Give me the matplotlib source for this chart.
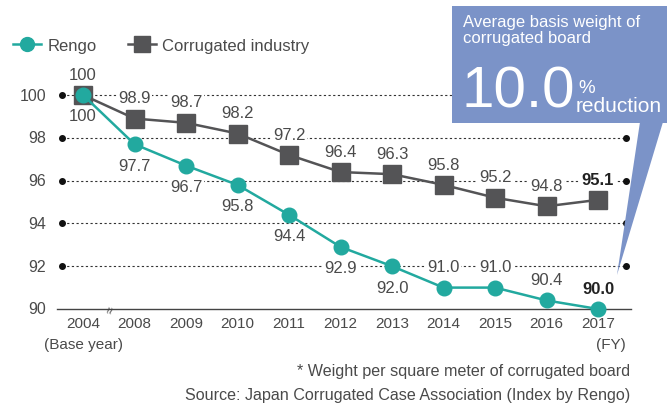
import matplotlib
matplotlib.use("Agg")
from matplotlib import pyplot as plt
from matplotlib.patches import Rectangle, Polygon
from matplotlib.lines import Line2D

plt.rcParams['font.family'] = ['Liberation Sans', 'DejaVu Sans']

years = ["2004", "2008", "2009", "2010", "2011", "2012", "2013", "2014", "2015", "2016", "2017"]
rengo = [100, 97.7, 96.7, 95.8, 94.4, 92.9, 92.0, 91.0, 91.0, 90.4, 90.0]
industry = [100, 98.9, 98.7, 98.2, 97.2, 96.4, 96.3, 95.8, 95.2, 94.8, 95.1]
rengo_labels = ["100", "97.7", "96.7", "95.8", "94.4", "92.9", "92.0", "91.0", "91.0", "90.4", "90.0"]
industry_labels = ["100", "98.9", "98.7", "98.2", "97.2", "96.4", "96.3", "95.8", "95.2", "94.8", "95.1"]
grid_values = [92, 94, 96, 98, 100]

TEAL = "#22a99f"
GRAY = "#545456"
TXT = "#4a4a4a"
BOX = "#7b93c8"

W, H = 667, 410


def fx(x):
    return x / W


def fy(y):
    return 1 - y / H


fig = plt.figure(figsize=(W / 100, H / 100), dpi=100)
ax = fig.add_axes([fx(57), fy(310), (631 - 57) / W, (310 - 60) / H])
ax.set_xlim(-0.505, 10.64)
ax.set_ylim(90, 90 + 250 / 21.4)
for s in ax.spines.values():
    s.set_visible(False)
ax.spines['bottom'].set_visible(True)
ax.spines['bottom'].set_color("#444444")
ax.spines['bottom'].set_linewidth(1.0)
ax.set_yticks([])

x = list(range(len(years)))
ax.set_xticks(x)
ax.set_xticklabels(years, fontsize=11, color=TXT)
ax.tick_params(axis='x', length=0, pad=5)

# dotted gridlines with end dots
gx0, gx1 = -0.408, 10.544
for g in grid_values:
    ax.plot([gx0, gx1], [g, g], ls=(0, (2, 2.2)), color="#333333", lw=0.8, zorder=1)
    ax.plot([gx0, gx1], [g, g], ls="none", marker="o", ms=4, color="#111111", zorder=1, clip_on=False)
for g in grid_values + [90]:
    ax.text(-0.72, g, str(g), ha="right", va="center", fontsize=11.5, color=TXT)

# axis break mark
ax.text(0.565, 90, "\u2248", rotation=75, ha="center", va="center", fontsize=9, color="#444444")

ax.plot(x, industry, color=GRAY, lw=1.8, marker="s", ms=13, zorder=3, clip_on=False)
ax.plot(x, rengo, color=TEAL, lw=1.8, marker="o", ms=10.5, zorder=4, clip_on=False)

# Rengo labels from 2014 on sit above the points
rengo_above = {7, 8, 9, 10}
last = len(x) - 1

bb = dict(boxstyle="square,pad=0.1", fc="white", ec="none")
for i, (v, lab) in enumerate(zip(industry, industry_labels)):
    bold = i == last
    ax.annotate(lab, (i, v), xytext=(0, 15), textcoords="offset points", ha="center", va="center",
                fontsize=12, color="#222222" if bold else TXT, fontweight="bold" if bold else "normal",
                bbox=bb, zorder=2)
for i, (v, lab) in enumerate(zip(rengo, rengo_labels)):
    bold = i == last
    dy = 15 if i in rengo_above else -15
    ax.annotate(lab, (i, v), xytext=(0, dy), textcoords="offset points", ha="center", va="center",
                fontsize=12, color="#222222" if bold else TXT, fontweight="bold" if bold else "normal",
                bbox=bb, zorder=2)

ax.text(0, -0.14, "(Base year)", transform=ax.get_xaxis_transform(), ha="center", va="center",
        fontsize=11, color=TXT)
ax.text(10.25, -0.14, "(FY)", transform=ax.get_xaxis_transform(), ha="center", va="center",
        fontsize=11, color=TXT)

# legend
handles = [Line2D([], [], color=TEAL, lw=1.8, marker="o", ms=10),
           Line2D([], [], color=GRAY, lw=1.8, marker="s", ms=11)]
fig.legend(handles, ["Rengo", "Corrugated industry"], loc="center left", bbox_to_anchor=(fx(13), fy(46)),
           ncol=2, frameon=False, fontsize=12, handlelength=1.7, handletextpad=0.35, columnspacing=1.9,
           labelcolor=TXT, borderpad=0, borderaxespad=0)

# callout box
fig.add_artist(Rectangle((fx(452), fy(124)), (W - 452) / W, (124 - 7) / H, transform=fig.transFigure,
                         fc=BOX, ec="none", zorder=5))
fig.add_artist(Polygon([(fx(640), fy(123)), (fx(663), fy(123)), (fx(617), fy(276))], closed=True,
                       transform=fig.transFigure, fc=BOX, ec="none", zorder=5))
fig.text(fx(463), fy(15), "Average basis weight of\ncorrugated board", ha="left", va="top", fontsize=12,
         color="white", linespacing=1.05, zorder=6)
fig.text(fx(461), fy(108), "10.0", ha="left", va="baseline", fontsize=42, color="white", zorder=6,
         fontstretch="condensed")
fig.text(fx(578), fy(93), "%", ha="left", va="baseline", fontsize=13.5, color="white", zorder=6)
fig.text(fx(576), fy(112), "reduction", ha="left", va="baseline", fontsize=15, color="white", zorder=6)

fig.text(fx(630), fy(372), "* Weight per square meter of corrugated board", ha="right", va="center",
         fontsize=11.6, color=TXT)
fig.text(fx(630), fy(396), "Source: Japan Corrugated Case Association (Index by Rengo)", ha="right",
         va="center", fontsize=11.6, color=TXT)

fig.savefig("out.png", dpi=100)
